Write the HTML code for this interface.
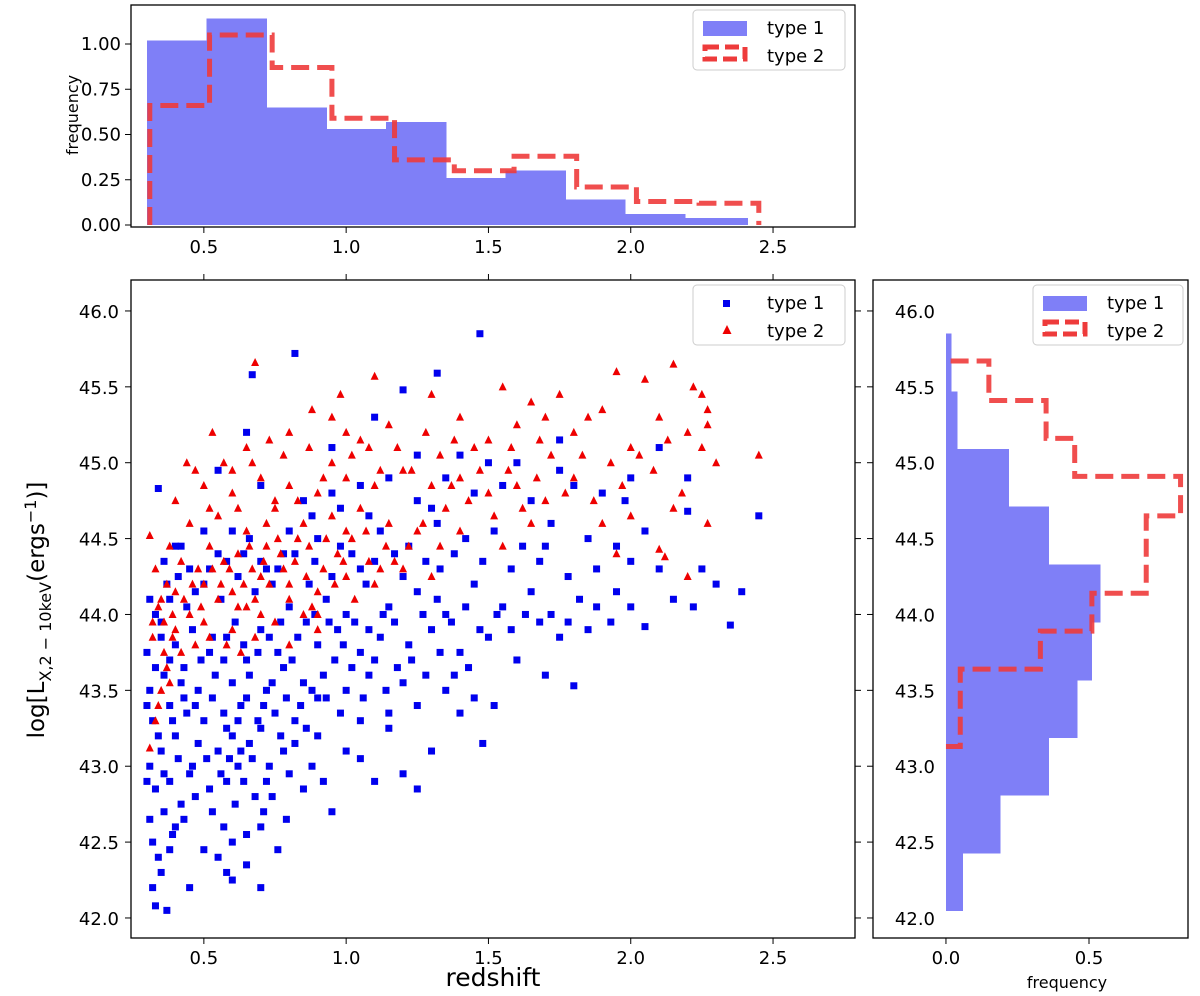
<!DOCTYPE html>
<html><head><meta charset="utf-8"><style>
body{margin:0;background:#fff}
svg{display:block;font-family:"DejaVu Sans","Liberation Sans",sans-serif}
</style></head><body>
<svg id="c" width="1200" height="996" viewBox="0 0 1200 996"></svg>
<script>
const t1Points=[[0.33,42.08],[0.37,42.05],[0.45,42.2],[0.35,42.3],[0.38,42.45],[0.32,42.5],[0.4,42.6],[0.31,42.65],[0.36,42.7],[0.42,42.75],[0.5,42.45],[0.55,42.4],[0.6,42.5],[0.65,42.55],[0.7,42.6],[0.76,42.45],[0.33,42.85],[0.38,42.9],[0.45,42.95],[0.52,42.85],[0.58,42.9],[0.62,43.0],[0.68,42.8],[0.72,42.9],[0.8,42.95],[0.85,42.85],[0.95,42.7],[0.31,43.0],[0.35,43.1],[0.4,43.2],[0.48,43.15],[0.55,43.1],[0.6,43.2],[0.66,43.15],[0.7,43.25],[0.78,43.1],[0.88,43.0],[1.1,42.9],[1.2,42.95],[0.32,43.3],[0.38,43.4],[0.44,43.35],[0.5,43.3],[0.57,43.35],[0.63,43.4],[0.69,43.3],[0.75,43.35],[0.82,43.3],[0.9,43.2],[0.98,43.35],[1.05,43.3],[1.15,43.25],[1.3,43.1],[1.25,43.4],[0.31,43.5],[0.36,43.6],[0.42,43.55],[0.48,43.5],[0.54,43.6],[0.6,43.55],[0.66,43.6],[0.72,43.5],[0.78,43.65],[0.85,43.55],[0.92,43.6],[1.0,43.5],[1.08,43.6],[1.2,43.55],[1.35,43.5],[1.45,43.45],[1.52,43.4],[1.7,43.6],[1.8,43.53],[0.3,43.75],[0.35,43.85],[0.4,43.8],[0.46,43.9],[0.52,43.75],[0.58,43.85],[0.64,43.8],[0.7,43.9],[0.76,43.75],[0.83,43.85],[0.9,43.8],[0.97,43.9],[1.05,43.75],[1.12,43.85],[1.22,43.8],[1.3,43.9],[1.4,43.75],[1.5,43.85],[1.6,43.7],[1.75,43.85],[1.85,43.9],[2.05,43.92],[2.35,43.93],[0.33,44.0],[0.38,44.1],[0.44,44.05],[0.5,44.2],[0.56,44.1],[0.62,44.25],[0.68,44.15],[0.74,44.2],[0.8,44.05],[0.87,44.2],[0.93,44.1],[1.0,44.0],[1.07,44.2],[1.15,44.05],[1.25,44.15],[1.35,44.0],[1.45,44.2],[1.55,44.05],[1.65,44.15],[1.72,44.0],[1.82,44.1],[1.95,44.15],[2.1,44.3],[2.25,44.3],[2.3,44.2],[2.39,44.15],[0.36,44.35],[0.42,44.45],[0.55,44.4],[0.66,44.5],[0.78,44.4],[0.9,44.5],[1.02,44.4],[1.12,44.55],[1.22,44.45],[1.32,44.6],[1.42,44.5],[1.52,44.55],[1.62,44.45],[1.72,44.6],[1.85,44.5],[1.95,44.45],[2.2,44.68],[2.45,44.65],[0.34,44.83],[0.55,44.95],[0.65,45.2],[0.7,44.85],[0.85,44.75],[0.95,44.8],[1.05,44.85],[1.15,44.9],[1.25,44.75],[1.35,44.9],[1.45,44.8],[1.55,44.85],[1.65,44.75],[1.8,44.85],[2.0,44.9],[2.1,45.1],[2.2,44.9],[0.67,45.58],[0.82,45.72],[1.1,45.3],[1.2,45.48],[1.32,45.59],[1.47,45.85],[0.95,45.1],[1.25,45.05],[1.6,45.0],[1.75,45.15],[1.9,44.8],[0.45,44.3],[0.6,44.55],[0.72,44.3],
[0.34,42.4],[0.39,42.55],[0.43,42.65],[0.47,42.8],[0.53,42.7],[0.57,42.6],[0.61,42.75],[0.64,42.9],[0.71,42.7],[0.74,42.8],[0.79,42.65],[0.36,42.95],[0.41,43.05],[0.46,43.0],[0.51,43.05],[0.56,42.95],[0.59,43.05],[0.63,43.1],[0.67,43.05],[0.73,43.0],[0.77,43.2],[0.82,43.15],[0.86,43.25],[0.34,43.2],[0.39,43.3],[0.43,43.45],[0.47,43.4],[0.53,43.45],[0.58,43.25],[0.62,43.3],[0.65,43.45],[0.71,43.4],[0.74,43.55],[0.79,43.45],[0.84,43.4],[0.88,43.5],[0.93,43.45],[0.96,43.7],[1.02,43.65],[1.06,43.45],[1.1,43.7],[1.14,43.5],[1.18,43.65],[1.23,43.7],[1.28,43.6],[1.33,43.75],[1.38,43.6],[1.43,43.65],[0.33,43.65],[0.38,43.7],[0.43,43.65],[0.49,43.7],[0.53,43.85],[0.57,43.7],[0.61,43.95],[0.65,43.7],[0.69,43.75],[0.73,43.85],[0.77,43.95],[0.81,43.7],[0.86,43.95],[0.89,44.0],[0.94,43.95],[0.99,43.8],[1.03,43.95],[1.08,43.9],[1.13,44.0],[1.17,43.95],[1.27,44.0],[1.32,44.1],[1.37,43.95],[1.42,44.05],[1.47,43.9],[1.53,44.0],[1.58,43.9],[1.63,44.0],[1.68,43.95],[1.78,43.95],[1.88,44.05],[1.93,43.95],[2.0,44.05],[2.15,44.1],[2.22,44.05],[0.31,44.1],[0.37,44.2],[0.41,44.25],[0.47,44.15],[0.52,44.3],[0.58,44.35],[0.64,44.4],[0.7,44.35],[0.76,44.3],[0.82,44.4],[0.89,44.35],[0.95,44.25],[0.98,44.45],[1.05,44.3],[1.1,44.35],[1.17,44.4],[1.2,44.25],[1.28,44.35],[1.33,44.3],[1.38,44.4],[1.48,44.35],[1.58,44.3],[1.68,44.35],[1.78,44.25],[1.88,44.3],[2.0,44.35],[2.05,44.55],[1.98,44.75],[1.7,44.45],[1.75,44.95],[1.5,45.0],[1.4,45.05],[1.3,44.7],[1.08,44.65],[0.98,44.7],[0.88,44.65],[0.8,44.55],[0.5,44.55],[0.4,44.45],[0.35,43.95],[0.3,43.4],[0.3,42.9],[0.32,42.2],[0.7,42.2],[0.65,42.35],[0.6,42.25],[0.58,42.3],[1.0,43.1],[1.05,43.05],[1.25,42.85],[0.92,42.9],[0.9,43.45],[1.15,43.35],[1.4,43.35],[1.48,43.15]];
const t2Points=[[0.31,43.12],[0.33,43.3],[0.35,43.5],[0.37,43.65],[0.32,43.85],[0.36,43.95],[0.4,43.9],[0.45,44.0],[0.5,43.95],[0.55,44.1],[0.6,43.9],[0.65,44.05],[0.7,44.0],[0.75,43.95],[0.8,44.1],[0.85,44.0],[0.9,43.9],[0.33,44.3],[0.38,44.45],[0.42,44.35],[0.48,44.3],[0.52,44.45],[0.57,44.35],[0.62,44.4],[0.67,44.3],[0.72,44.45],[0.77,44.4],[0.82,44.35],[0.87,44.45],[0.92,44.3],[0.97,44.4],[1.02,44.5],[1.08,44.35],[1.14,44.45],[0.31,44.52],[0.4,44.15],[0.5,44.2],[0.6,44.15],[0.7,44.25],[0.8,44.2],[0.9,44.15],[1.0,44.25],[1.1,44.2],[1.2,44.3],[0.45,44.6],[0.55,44.65],[0.65,44.55],[0.75,44.7],[0.85,44.6],[0.95,44.65],[1.05,44.7],[1.15,44.6],[1.25,44.55],[1.35,44.7],[0.4,44.75],[0.5,44.85],[0.6,44.8],[0.7,44.9],[0.8,44.85],[0.9,44.8],[1.0,44.9],[1.1,44.85],[1.2,44.95],[1.3,44.85],[1.4,44.9],[1.5,44.8],[1.6,44.85],[1.7,44.75],[1.8,44.9],[0.53,45.2],[0.65,45.1],[0.8,45.2],[0.95,45.3],[1.05,45.15],[1.15,45.25],[1.28,45.2],[1.4,45.3],[1.5,45.15],[1.6,45.25],[1.7,45.3],[1.8,45.2],[1.9,45.35],[2.0,45.1],[2.1,45.3],[2.2,45.2],[2.25,45.45],[0.68,45.66],[0.98,45.45],[1.1,45.57],[1.3,45.45],[1.55,45.5],[1.65,45.4],[1.75,45.45],[1.95,45.6],[2.05,45.55],[2.15,45.65],[2.22,45.5],[2.27,45.35],[2.3,45.0],[2.45,45.05],[2.0,44.65],[2.15,44.7],[2.27,44.6],[1.9,44.6],[1.95,44.4],[2.1,44.43],[2.12,44.38],[2.2,44.25],[1.55,44.45],[1.65,44.6],[1.4,44.55],[1.3,44.25],[0.35,44.1],[0.58,43.8],[0.68,43.85],[0.42,43.75],[0.75,44.75],[0.95,45.0],[1.0,44.55],[1.12,44.95],
[0.32,43.95],[0.34,44.05],[0.37,44.2],[0.39,44.0],[0.43,44.1],[0.46,44.2],[0.49,44.05],[0.53,44.3],[0.56,44.2],[0.59,44.3],[0.62,44.05],[0.64,44.2],[0.66,44.45],[0.68,44.1],[0.71,44.35],[0.73,44.2],[0.76,44.5],[0.78,44.3],[0.83,44.5],[0.86,44.25],[0.88,44.05],[0.93,44.5],[0.96,44.2],[0.99,44.35],[1.03,44.1],[1.07,44.55],[1.12,44.3],[1.17,44.35],[1.22,44.45],[1.27,44.6],[1.33,44.45],[1.37,44.85],[1.43,44.75],[1.47,44.95],[1.52,44.65],[1.57,44.95],[1.62,44.7],[1.67,44.9],[1.72,45.05],[1.77,44.8],[1.83,45.05],[1.87,44.75],[1.93,45.0],[1.97,44.85],[2.03,45.05],[2.08,44.95],[2.13,45.15],[2.18,44.8],[2.25,45.1],[2.27,45.25],[0.47,44.95],[0.52,44.7],[0.57,45.0],[0.62,44.7],[0.67,45.0],[0.72,44.6],[0.78,45.05],[0.83,44.75],[0.87,45.1],[0.92,44.9],[1.02,45.05],[1.08,45.1],[1.18,45.1],[1.23,44.95],[1.33,45.05],[1.38,45.15],[1.45,45.1],[1.58,45.1],[1.68,45.15],[1.85,45.3],[0.44,45.0],[0.6,44.95],[0.73,45.15],[0.88,45.35],[1.0,45.2],[0.36,43.75],[0.39,43.85],[0.34,43.4],[0.38,43.55],[0.47,43.8],[0.52,43.85],[0.63,43.75],[0.8,43.8],[0.9,44.0]];
const zEdges1=[0.3,0.51,0.72,0.93,1.14,1.35,1.56,1.77,1.98,2.19,2.41];
const zFreq1=[1.02,1.14,0.65,0.53,0.57,0.26,0.30,0.14,0.06,0.04];
const zEdges2=[0.31,0.52,0.74,0.95,1.17,1.38,1.59,1.81,2.02,2.24,2.45];
const zFreq2=[0.66,1.05,0.87,0.59,0.36,0.30,0.38,0.21,0.13,0.12];
const lEdges1=[42.05,42.43,42.81,43.19,43.57,43.95,44.33,44.71,45.09,45.47,45.85];
const lFreq1=[0.06,0.19,0.36,0.46,0.51,0.54,0.36,0.22,0.04,0.02];
const lEdges2=[43.13,43.38,43.64,43.89,44.14,44.40,44.65,44.91,45.16,45.41,45.67];
const lFreq2=[0.05,0.05,0.33,0.51,0.70,0.70,0.82,0.45,0.35,0.15];
const zTicks=[0.5,1.0,1.5,2.0,2.5];
const lTicks=[42.0,42.5,43.0,43.5,44.0,44.5,45.0,45.5,46.0];
const fTicks=[0,0.25,0.5,0.75,1.0];
const rfTicks=[0,0.5];

const svg=document.getElementById('c');const NS='http://www.w3.org/2000/svg';
function mk(tag,attrs,parent,text){const e=document.createElementNS(NS,tag);for(const k in attrs)e.setAttribute(k,attrs[k]);if(text!==undefined)e.textContent=text;(parent||svg).appendChild(e);return e;}
const M={l:131,r:855,t:280,b:938};
const X=z=>M.l+(z-0.244)/(2.788-0.244)*(M.r-M.l);
const Y=v=>M.b-(v-41.868)/(46.204-41.868)*(M.b-M.t);
const T={t:5,b:227};
const HY=f=>225-f*181;
const R={l:873,r:1188};
const RX=f=>R.l+(f+0.255)/(0.846+0.255)*(R.r-R.l);
const FS=18;

let g=mk('g',{});

zFreq1.forEach((f,i)=>{const r=mk('rect',{x:X(zEdges1[i]),y:HY(f),width:X(zEdges1[i+1])-X(zEdges1[i])+0.6,height:HY(0)-HY(f),fill:'#7f7ff7','shape-rendering':'crispEdges'},g);
});
let d='M'+X(zEdges2[0])+','+HY(0);
zFreq2.forEach((f,i)=>{d+=' L'+X(zEdges2[i])+','+HY(f)+' L'+X(zEdges2[i+1])+','+HY(f);});
d+=' L'+X(zEdges2[zEdges2.length-1])+','+HY(0);
let p=mk('path',{d:d,fill:'none',stroke:'#ee3b3b','stroke-width':5,'stroke-dasharray':'18,8','stroke-opacity':0.9},g);

mk('rect',{x:M.l,y:T.t,width:M.r-M.l,height:T.b-T.t,fill:'none',stroke:'#000','stroke-width':1.3},g);
zTicks.forEach(z=>{mk('line',{x1:X(z),x2:X(z),y1:T.b,y2:T.b+6,stroke:'#000'},g);const tx=mk('text',{x:X(z),y:T.b+26,'text-anchor':'middle','font-size':FS},g,z.toFixed(1));});
fTicks.forEach(f=>{mk('line',{x1:M.l-6,x2:M.l,y1:HY(f),y2:HY(f),stroke:'#000'},g);const tx=mk('text',{x:M.l-10,y:HY(f)+6,'text-anchor':'end','font-size':FS},g,f.toFixed(2));});
let tl=mk('text',{x:0,y:0,transform:'translate(78,115) rotate(-90)','text-anchor':'middle','font-size':16},g,'frequency');


let m=mk('g',{});
mk('rect',{x:M.l,y:M.t,width:M.r-M.l,height:M.b-M.t,fill:'none',stroke:'#000','stroke-width':1.3},m);
t1Points.forEach(pt=>{const r=mk('rect',{x:X(pt[0])-3.5,y:Y(pt[1])-3.5,width:7,height:7,fill:'#0000ee'},m);
});
t2Points.forEach(pt=>{const x=X(pt[0]),y=Y(pt[1]);const r=mk('polygon',{points:`${x},${y-4.5} ${x-4},${y+3.5} ${x+4},${y+3.5}`,fill:'#ee0000'},m);
});
zTicks.forEach(z=>{mk('line',{x1:X(z),x2:X(z),y1:M.b,y2:M.b+6,stroke:'#000'},m);mk('line',{x1:X(z),x2:X(z),y1:M.t,y2:M.t-6,stroke:'#000'},m);const tx=mk('text',{x:X(z),y:M.b+26,'text-anchor':'middle','font-size':FS},m,z.toFixed(1));});
lTicks.forEach(v=>{mk('line',{x1:M.l-6,x2:M.l,y1:Y(v),y2:Y(v),stroke:'#000'},m);mk('line',{x1:M.r,x2:M.r+6,y1:Y(v),y2:Y(v),stroke:'#000'},m);const tx=mk('text',{x:M.l-12,y:Y(v)+7,'text-anchor':'end','font-size':FS},m,v.toFixed(1));});
let xl=mk('text',{x:493,y:986,'text-anchor':'middle','font-size':25},m,'redshift');
let yl=mk('text',{x:0,y:0,transform:'translate(44,610) rotate(-90)','text-anchor':'middle','font-size':23},m);

yl.innerHTML='log[L<tspan font-size="16" dy="7">X,2 − 10keV</tspan><tspan dy="-7">(ergs</tspan><tspan font-size="16" dy="-8">−1</tspan><tspan dy="8">)]</tspan>';

let rg=mk('g',{});
lFreq1.forEach((f,i)=>{const r=mk('rect',{x:RX(0),y:Y(lEdges1[i+1]),width:RX(f)-RX(0),height:Y(lEdges1[i])-Y(lEdges1[i+1])+0.6,fill:'#7f7ff7','shape-rendering':'crispEdges'},rg);
});
d='M'+RX(0)+','+Y(lEdges2[0]);
lFreq2.forEach((f,i)=>{d+=' L'+RX(f)+','+Y(lEdges2[i])+' L'+RX(f)+','+Y(lEdges2[i+1]);});
d+=' L'+RX(0)+','+Y(lEdges2[lEdges2.length-1]);
p=mk('path',{d:d,fill:'none',stroke:'#ee3b3b','stroke-width':5,'stroke-dasharray':'18,8','stroke-opacity':0.9},rg);

mk('rect',{x:R.l,y:M.t,width:R.r-R.l,height:M.b-M.t,fill:'none',stroke:'#000','stroke-width':1.3},rg);
lTicks.forEach(v=>{mk('line',{x1:R.l-6,x2:R.l,y1:Y(v),y2:Y(v),stroke:'#000'},rg);const tx=mk('text',{x:R.l+62,y:Y(v)+7,'text-anchor':'end','font-size':FS},rg,v.toFixed(1));});
rfTicks.forEach(f=>{mk('line',{x1:RX(f),x2:RX(f),y1:M.b,y2:M.b+6,stroke:'#000'},rg);const tx=mk('text',{x:RX(f),y:M.b+26,'text-anchor':'middle','font-size':FS},rg,f.toFixed(1));});
let rl=mk('text',{x:1067,y:988,'text-anchor':'middle','font-size':16},rg,'frequency');

function legend(x,y,w,kind,name){const lg=mk('g',{});
mk('rect',{x:x,y:y,width:w,height:60,rx:4,fill:'#fff','fill-opacity':0.85,stroke:'#ccc'},lg);
if(kind==='hist'){mk('rect',{x:x+10,y:y+11,width:44,height:15,fill:'#7f7ff7'},lg);mk('rect',{x:x+12,y:y+37,width:40,height:12,fill:'none',stroke:'#ee3b3b','stroke-width':5,'stroke-dasharray':'14,6'},lg);}
else{mk('rect',{x:x+30,y:y+15,width:7,height:7,fill:'#0000ee'},lg);const cx=x+34,cy=y+45;mk('polygon',{points:`${cx},${cy-5} ${cx-4.5},${cy+4} ${cx+4.5},${cy+4}`,fill:'#ee0000'},lg);}
mk('text',{x:x+74,y:y+24,'font-size':FS},lg,'type 1');mk('text',{x:x+74,y:y+52,'font-size':FS},lg,'type 2');}
legend(693,10,152,'hist','top-legend');
legend(693,285,152,'scatter','scatter-legend');
legend(1033,285,150,'hist','right-legend');
</script>
</body></html>
